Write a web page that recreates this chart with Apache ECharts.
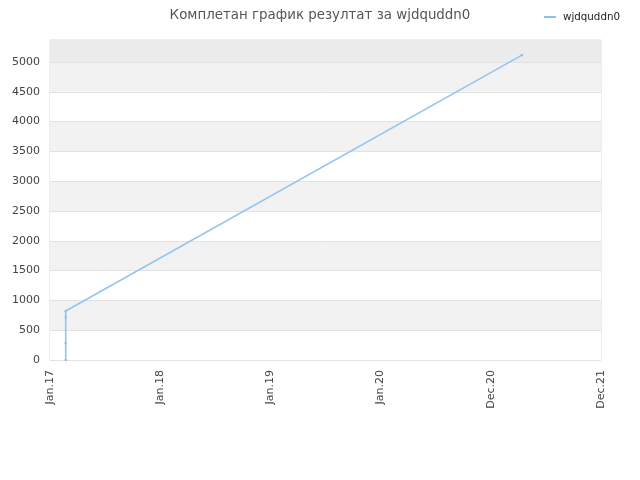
<!DOCTYPE html>
<html><head><meta charset="utf-8">
<script src="https://cdn.jsdelivr.net/npm/echarts@6/dist/echarts.min.js"></script>
<style>html,body{margin:0;padding:0;background:#fff}#c{width:640px;height:480px}</style>
</head><body><div id="c"></div>
<script>
var seriesName = 'wjdquddn0';
var titleText = 'Комплетан график резултат за wjdquddn0';
// x = days since 1 Jan 2017
var xDays = [52, 52, 52, 52, 1563];
var yValues = [0, 285, 720, 822, 5117];
var tickLabels = ['Jan.17', 'Jan.18', 'Jan.19', 'Jan.20', 'Dec.20', 'Dec.21'];

var data = xDays.map(function (d, i) { return [d, yValues[i]]; });
var chart = echarts.init(document.getElementById('c'));
chart.setOption({
  animation: false,
  backgroundColor: '#fff',
  title: {
    text: titleText, left: 'center', top: 4,
    textStyle: { fontFamily: 'DejaVu Sans', fontSize: 13.4, fontWeight: 'normal', color: '#555' }
  },
  legend: {
    right: 15, top: 7, itemWidth: 12, itemHeight: 2, icon: 'rect', itemGap: 10,
    textStyle: { fontFamily: 'DejaVu Sans', fontSize: 10.3, color: '#222', padding: [0, 0, 0, 2] },
    data: [seriesName]
  },
  grid: { left: 50, right: 39, top: 40, bottom: 120, show: true, borderColor: '#dcdcdc', borderWidth: 1 },
  xAxis: {
    type: 'value', min: 0, max: 1825, interval: 365,
    axisLine: { show: false }, axisTick: { show: false }, splitLine: { show: false },
    axisLabel: {
      rotate: 90, fontFamily: 'DejaVu Sans', fontSize: 11, color: '#444', margin: 10,
      formatter: function (v) { var i = Math.round(v / 365); return tickLabels[i] || ''; }
    }
  },
  yAxis: {
    type: 'value', min: 0, max: 5370, interval: 500,
    axisLine: { show: false }, axisTick: { show: false },
    splitLine: { show: true, lineStyle: { color: '#e2e2e2' } },
    splitArea: { show: true, areaStyle: { color: ['#ffffff', '#f2f2f2'] } },
    axisLabel: {
      fontFamily: 'DejaVu Sans', fontSize: 11, color: '#444', margin: 10,
      formatter: function (v) { return v % 500 === 0 ? String(v) : ''; }
    }
  },
  series: [{
    name: seriesName, type: 'line', data: data,
    symbol: 'circle', symbolSize: 2.5, showSymbol: true,
    itemStyle: { color: '#8cbff2' },
    lineStyle: { color: '#93c4f2', width: 1.6 },
    markArea: {
      silent: true,
      itemStyle: { color: '#ececec' },
      data: [[{ yAxis: 5000 }, { yAxis: 5370 }]]
    }
  }]
});
</script></body></html>
